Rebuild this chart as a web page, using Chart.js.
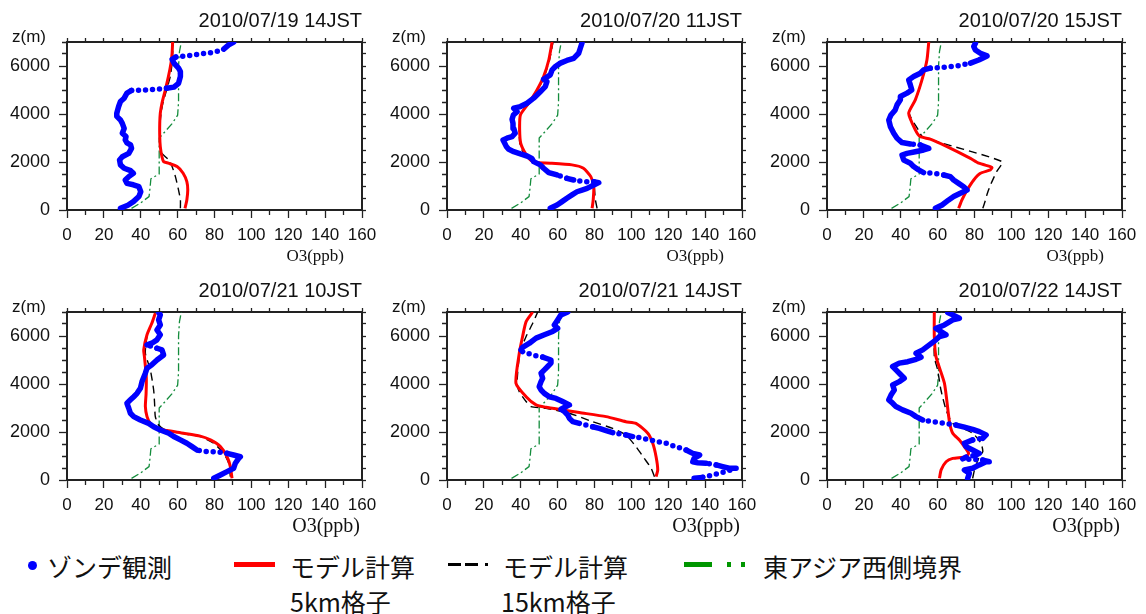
<!DOCTYPE html>
<html lang="ja">
<head>
<meta charset="utf-8">
<title>オゾン鉛直分布</title>
<script src="https://cdn.jsdelivr.net/npm/chart.js@4.4.1/dist/chart.umd.min.js"></script>
<style>
  html, body { margin: 0; padding: 0; background: #fff; }
  #page { position: relative; width: 1146px; height: 614px; overflow: hidden; background: #fff; }
  #page canvas { position: absolute; }
  .lg { position: absolute; font-family: "Noto Sans CJK JP", "Noto Sans", sans-serif; font-size: 25px; line-height: 26px; color: #111; white-space: nowrap; }
  .sym { position: absolute; }
</style>
</head>
<body>
<div id="page"></div>
<script>
// ---- Profiles: each entry is [O3 (ppb), height z (m)] ----

// Lateral boundary profile (East Asia, western side), same for every launch
const boundaryWest = [[35,70],[40,300],[44.5,560],[45,900],[45.5,1300],[50,1500],[50,2500],[50,3000],[53,3250],[57,3600],[60,3950],[60.5,4500],[60.5,6000],[61,6600],[62,7000]];

// 2010/07/19 14JST
const sonde_0719_14 = [[29,70],[33,200],[36,350],[39,560],[40,760],[39,970],[36,1050],[32.5,1110],[31.6,1250],[33.5,1390],[36,1530],[34.5,1640],[31,1740],[29,1880],[28.5,2085],[30,2220],[33.5,2360],[35,2570],[34.5,2710],[32.5,2800],[31.6,2920],[32,3060],[30,3200],[31,3400],[30,3610],[29,3750],[27,3900],[27,4030],[28,4310],[29,4520],[31,4660],[32.5,4870],[35,4980],[43,5000],[49,5030],[54,5070],[58,5120],[60.5,5280],[61.5,5560],[61.5,5770],[60.5,5910],[58,6120],[57,6280],[59,6370],[65,6420],[72,6500],[79.5,6570],[85,6700],[87.7,6880],[90.4,7000]];
const model5_0719_14 = [[64,70],[65,420],[65.5,830],[65,1180],[63,1530],[59.7,1810],[55,1950],[52.4,2015],[51.5,2220],[50.6,2640],[50.3,3060],[50.3,3610],[50.6,4030],[51.5,4450],[53.3,5000],[55,5560],[56.4,6120],[57,6530],[57.3,7000]];
const model15_0719_14 = [[61.5,70],[61.5,420],[60.5,830],[58.8,1390],[57,1810],[55.2,2085],[51.5,2360],[50.3,2640],[50.3,3060],[50.5,3610],[51,4030],[52,4450],[54,5000],[56,5560],[57,6120],[57.3,6530],[57.5,7000]];

// 2010/07/20 11JST
const sonde_0720_11 = [[56,70],[59.7,210],[62.4,350],[65,490],[67.8,630],[70.5,760],[73.2,830],[76,900],[79.6,1040],[82.3,1140],[79.6,1180],[74,1180],[68.7,1250],[65,1320],[59.7,1460],[55.2,1560],[52.4,1740],[50.6,1880],[47,2015],[46,2150],[43.4,2250],[39.8,2335],[36.2,2430],[33.5,2530],[32.2,2640],[31.1,2810],[30.4,2920],[32.5,2990],[35.3,3060],[37,3200],[36.2,3400],[35.8,3610],[35.3,3780],[36,3960],[38,4100],[36.2,4240],[39.8,4310],[43.4,4450],[47,4660],[50.6,4930],[53.3,5140],[54.2,5350],[52.4,5450],[56,5630],[57,5840],[58.8,5980],[61.5,6120],[65,6230],[68.7,6320],[71.4,6530],[72.3,6740],[73.2,6950]];
const model5_0720_11 = [[78.7,70],[79.3,420],[79.6,970],[78,1390],[74,1740],[67.8,1880],[56,1950],[48,1975],[45.2,2085],[42.5,2360],[40,2780],[39.4,3340],[39.8,3960],[44.3,4450],[48.8,5000],[52.4,5560],[55.2,6250],[57,7000]];
const model15_0720_11 = [[81.4,70],[80.5,420],[79.8,970],[78,1390],[74,1740],[68,1880],[57,1950],[48,1980],[44.5,2085],[41.5,2360],[39.5,2780],[39.2,3340],[39.8,3960],[44.5,4450],[49.2,5000],[52.8,5560],[55.6,6250],[57.5,7000]];

// 2010/07/20 15JST
const sonde_0720_15 = [[58.8,70],[62.4,210],[66,420],[68.7,560],[72.3,700],[76,830],[74.1,970],[71.4,1110],[68.7,1250],[66.9,1390],[63.3,1460],[57.9,1530],[52.4,1560],[49.7,1670],[47,1810],[45.2,1950],[41.6,2085],[40.7,2290],[43.4,2360],[47.9,2430],[52.4,2500],[55.2,2570],[50.6,2710],[45.2,2750],[40.7,2810],[38,2990],[36.2,3200],[34.4,3470],[33.5,3750],[34.7,3960],[37,4170],[38,4380],[39.8,4590],[39.8,4730],[43.4,4870],[46,5000],[45.2,5210],[44.3,5420],[47,5560],[50.6,5700],[52.4,5840],[56,5910],[63.3,5950],[70.5,6000],[77.8,6120],[82.3,6250],[86.8,6420],[83.2,6530],[80.5,6670],[79.6,6810],[80.5,6950]];
const model5_0720_15 = [[71.4,70],[73.2,420],[76,830],[79.6,1250],[83.2,1530],[88.6,1670],[89.5,1770],[88.6,1810],[82.3,1950],[77.8,2150],[65.1,2640],[56,2950],[50.5,3060],[47.9,3340],[44.3,4030],[47.9,4590],[51.5,5420],[54.2,6250],[55.2,7000]];
const model15_0720_15 = [[84.5,70],[85.5,300],[87,700],[89,1100],[92,1600],[95,2015],[52,3040],[49.5,3340],[44.6,4030],[48,4590],[51.6,5420],[54.3,6250],[55.3,7000]];

// 2010/07/21 10JST
const sonde_0721_10 = [[79.6,70],[83.2,210],[86.8,350],[90.4,490],[91.3,700],[93.1,900],[94,970],[90.4,1040],[86.8,1110],[81.4,1180],[76,1180],[70.5,1250],[67.8,1390],[65,1530],[61.5,1670],[57.9,1810],[55.2,1950],[50.6,2085],[47,2220],[44.3,2360],[39.8,2500],[36.2,2640],[34.4,2780],[33.5,2990],[32.5,3200],[34.4,3340],[36.2,3470],[38,3610],[39.8,3820],[40.7,4100],[42.5,4450],[43.4,4660],[46,4800],[48.8,5000],[52.4,5210],[51.5,5420],[48.8,5490],[43.4,5630],[46,5700],[48.8,5840],[50.6,6050],[48.8,6250],[50.6,6460],[49.7,6670],[50.6,6880],[49.7,6980]];
const model5_0721_10 = [[89.5,70],[88.6,560],[86.8,970],[83.2,1390],[77.8,1670],[72.3,1830],[63.3,1950],[54.2,2060],[48.8,2150],[45.2,2360],[43.4,2640],[42.5,3060],[42.9,3610],[43,4310],[42,5140],[41.6,5420],[43.4,6050],[46,6530],[47.9,6950]];
const model15_0721_10 = [[88.6,140],[87.7,700],[85,1110],[79.6,1530],[72.3,1810],[61.5,1950],[53.3,2085],[49.7,2290],[47.9,2640],[47.5,3200],[47,3750],[45.2,4590],[42.5,5280],[43.4,5980],[46,6530],[47.9,6950]];

// 2010/07/21 14JST
const sonde_0721_14 = [[134,70],[138.7,110],[144,210],[151,350],[156.8,490],[153,490],[149.5,560],[146,630],[140.5,700],[136,720],[133.3,760],[134,900],[137,1040],[133.3,1110],[129.7,1250],[124,1390],[118.8,1530],[111.6,1640],[106.1,1740],[100.7,1810],[97,1880],[89.9,1970],[86.3,2060],[82.6,2150],[79,2220],[71.8,2360],[68.2,2430],[66.4,2570],[65.5,2710],[63.7,2850],[61.8,2950],[64.6,3060],[66.4,3130],[62.7,3270],[59.1,3400],[55.5,3470],[52.8,3610],[51,3750],[50,3890],[51,4100],[51.9,4240],[51,4450],[52.8,4590],[54.6,4730],[56.4,4870],[56.4,5000],[51.9,5120],[46.5,5210],[41,5350],[40.1,5420],[41,5530],[44.7,5700],[48.3,5910],[52.8,6050],[57.3,6190],[60,6320],[58.2,6460],[60,6670],[61.8,6880],[65.5,7000]];
const model5_0721_14 = [[113.4,140],[114.3,420],[113.4,970],[111.6,1530],[108.9,1950],[102.5,2360],[97,2430],[86.3,2640],[71.8,2810],[62.7,2920],[53.7,3030],[48.3,3130],[42.9,3470],[37.4,4030],[39.2,5280],[41,5980],[42.9,6600],[46.5,7000]];
const model15_0721_14 = [[112.5,140],[110.7,490],[107,900],[102.5,1390],[97,1880],[89.9,2150],[79,2430],[66.4,2780],[53.7,2990],[45.6,3060],[42.9,3270],[39.2,3680],[38,4030],[39.5,5280],[42.9,5980],[46.5,6530],[49.2,7000]];

// 2010/07/22 14JST
const sonde_0722_14 = [[76.3,70],[77.2,280],[74.5,420],[79,490],[82.6,630],[86.3,760],[88,760],[84.5,830],[79,860],[73.6,880],[75.4,950],[80.8,1040],[82.6,1110],[79,1250],[75.4,1390],[74.5,1530],[79,1670],[84.5,1740],[86.3,1880],[82.6,2015],[79,2110],[74.5,2200],[70,2290],[64.6,2360],[57.3,2430],[51.9,2500],[48.3,2640],[45.6,2780],[41,2920],[37.4,3060],[35.6,3200],[33.5,3340],[34.7,3540],[36.5,3750],[35.6,3960],[39.2,4100],[41.9,4240],[39.2,4450],[37.4,4590],[35.6,4730],[39.2,4870],[43.8,4930],[48.3,5030],[51,5120],[48.3,5280],[51.9,5420],[55.5,5630],[59.1,5840],[61,5980],[64.6,6050],[61.8,6190],[59.1,6320],[63.7,6460],[68.2,6670],[71.8,6740],[68.2,6880],[65.5,6980]];
const model5_0722_14 = [[61,70],[61.9,420],[64.6,760],[68.2,900],[75.4,970],[76.8,1110],[74.5,1390],[71.8,1670],[68.2,1950],[66.4,2430],[63.7,4030],[59.1,5140],[58.2,5980],[58.2,7000]];
const model15_0722_14 = [[79,70],[80,420],[82.6,970],[84.5,1180],[83.5,1530],[79,1950],[68.2,2360],[64.6,2920],[61.8,3750],[60,4590],[58.2,5140],[58.2,7000]];

// Panel titles and their series, in reading order
const panelTitles = ['2010/07/19 14JST', '2010/07/20 11JST', '2010/07/20 15JST', '2010/07/21 10JST', '2010/07/21 14JST', '2010/07/22 14JST'];
const sondeSets = [sonde_0719_14, sonde_0720_11, sonde_0720_15, sonde_0721_10, sonde_0721_14, sonde_0722_14];
const model5Sets = [model5_0719_14, model5_0720_11, model5_0720_15, model5_0721_10, model5_0721_14, model5_0722_14];
const model15Sets = [model15_0719_14, model15_0720_11, model15_0720_15, model15_0721_10, model15_0721_14, model15_0722_14];

// Axis extents
const o3Range = [0, 160];
const zRange = [0, 7000];

// ---- Drawing ----
const SANS = '"Liberation Sans", Arial, Helvetica, sans-serif';
const SERIF = '"Liberation Serif", "Times New Roman", serif';
const INK = '#111';
const AXIS = '#222';

const page = document.getElementById('page');
const toPoints = arr => arr.map(([o3, z]) => ({ x: o3, y: z }));

// "z(m)" above the height axis and the O3 unit under the ozone axis
const axisNames = {
  id: 'axisNames',
  afterDraw(chart, args, opts) {
    const { ctx, chartArea } = chart;
    ctx.save();
    ctx.fillStyle = INK;
    ctx.textBaseline = 'middle';
    ctx.font = '17px ' + SANS;
    ctx.textAlign = 'left';
    ctx.fillText('z(m)', 12, chartArea.top - 5);
    ctx.font = opts.unitSize + 'px ' + SERIF;
    ctx.textAlign = 'right';
    ctx.fillText('O3(ppb)', chartArea.right - opts.unitInset, chartArea.bottom + 47);
    ctx.restore();
  }
};

// Minor ticks are shortened with a dash pattern; majors use the full length
const isMinor = (c, step) => c.tick && Math.round(c.tick.value) % step !== 0;

function buildPanel(i) {
  const row = Math.floor(i / 3), col = i % 3;
  const canvas = document.createElement('canvas');
  canvas.width = 380; canvas.height = 270;
  canvas.style.left = (col * 380) + 'px';
  canvas.style.top = (row * 270) + 'px';
  page.appendChild(canvas);

  const fixW = w => s => { s.width = w; s.paddingTop = 0; s.paddingBottom = 0; };
  const fixH = h => s => { s.height = h; s.paddingLeft = 0; s.paddingRight = 0; };

  new Chart(canvas, {
    type: 'scatter',
    data: {
      datasets: [
        {
          label: 'ゾンデ観測',
          data: toPoints(sondeSets[i]),
          showLine: true,
          borderColor: 'rgb(0,0,255)',
          borderWidth: 5.5,
          borderCapStyle: 'round',
          borderJoinStyle: 'round',
          pointRadius: 0,
          tension: 0,
          segment: {
            // sparse soundings across sharp gradients show up as separate dots
            borderDash: c => {
              const dx = Math.abs(c.p1.x - c.p0.x), dy = Math.abs(c.p1.y - c.p0.y);
              return (dx > 9 && dx > 2.5 * dy) ? [0, 7] : undefined;
            }
          }
        },
        {
          label: 'モデル計算 5km格子',
          data: toPoints(model5Sets[i]),
          showLine: true,
          borderColor: 'rgb(255,0,0)',
          borderWidth: 3,
          pointRadius: 0,
          tension: 0.2
        },
        {
          label: 'モデル計算 15km格子',
          data: toPoints(model15Sets[i]),
          showLine: true,
          borderColor: '#000',
          borderWidth: 1.4,
          borderDash: [8, 5],
          pointRadius: 0,
          tension: 0.2
        },
        {
          label: '東アジア西側境界',
          data: toPoints(boundaryWest),
          showLine: true,
          borderColor: 'rgb(20,140,60)',
          borderWidth: 1.3,
          borderDash: [8, 3, 2, 3],
          pointRadius: 0,
          tension: 0
        }
      ]
    },
    options: {
      responsive: false,
      animation: false,
      devicePixelRatio: 1,
      events: [],
      layout: { padding: { left: 0, right: 18, top: 0, bottom: 0 } },
      plugins: {
        legend: { display: false },
        tooltip: { enabled: false },
        title: {
          display: true,
          text: panelTitles[i],
          align: 'end',
          color: INK,
          font: { family: SANS, size: 20, weight: 'normal' },
          padding: { top: 9, bottom: 9 }
        },
        axisNames: row === 0 ? { unitSize: 17, unitInset: 18 } : { unitSize: 20, unitInset: 2 }
      },
      scales: {
        x: {
          type: 'linear', position: 'bottom', min: o3Range[0], max: o3Range[1],
          afterFit: fixH(60),
          border: { display: true, color: AXIS, width: 2 },
          grid: {
            drawOnChartArea: false, tickLength: 8, tickColor: AXIS, tickWidth: 1.3,
            tickBorderDash: c => isMinor(c, 20) ? [4, 40] : []
          },
          ticks: {
            stepSize: 10, autoSkip: false, maxRotation: 0, minRotation: 0, padding: 7,
            color: INK, font: { family: SANS, size: 17 },
            callback: v => (Math.round(v) % 20 === 0 ? String(v) : '')
          }
        },
        xTop: {
          type: 'linear', position: 'top', min: o3Range[0], max: o3Range[1],
          afterFit: fixH(0),
          border: { display: true, color: AXIS, width: 2 },
          grid: { drawOnChartArea: false, tickLength: 4, tickColor: AXIS, tickWidth: 1.3 },
          ticks: { stepSize: 10, autoSkip: false, display: false }
        },
        y: {
          type: 'linear', position: 'left', min: zRange[0], max: zRange[1],
          afterFit: fixW(67),
          border: { display: true, color: AXIS, width: 2 },
          grid: {
            drawOnChartArea: false, tickLength: 8, tickColor: AXIS, tickWidth: 1.3,
            tickBorderDash: c => isMinor(c, 2000) ? [0, 3, 4, 40] : []
          },
          ticks: {
            stepSize: 500, autoSkip: false, padding: 9,
            color: INK, font: { family: SANS, size: 18 },
            callback: v => (Math.round(v) % 2000 === 0 ? String(v) : '')
          }
        },
        yRight: {
          type: 'linear', position: 'right', min: zRange[0], max: zRange[1],
          afterFit: fixW(0),
          border: { display: true, color: AXIS, width: 2 },
          grid: { drawOnChartArea: false, tickLength: 4, tickColor: AXIS, tickWidth: 1.3 },
          ticks: { stepSize: 500, autoSkip: false, display: false }
        }
      }
    },
    plugins: [axisNames]
  });
}

for (let i = 0; i < 6; i++) buildPanel(i);

// ---- Shared legend ----
function addBox(left, top, width, height, color, radius) {
  const d = document.createElement('div');
  d.className = 'sym';
  d.style.cssText = `left:${left}px;top:${top}px;width:${width}px;height:${height}px;background:${color};` + (radius ? `border-radius:${radius};` : '');
  page.appendChild(d);
}
function addText(left, top, text) {
  const d = document.createElement('div');
  d.className = 'lg';
  d.style.left = left + 'px';
  d.style.top = top + 'px';
  d.textContent = text;
  page.appendChild(d);
}

// sonde observation
addBox(28, 561, 9, 9, 'rgb(0,0,255)', '50%');
addText(47, 553, 'ゾンデ観測');
// model, 5 km grid
addBox(234, 562, 41, 5, 'rgb(255,0,0)');
addText(290, 553, 'モデル計算');
addText(290, 588, '5km格子');
// model, 15 km grid
addBox(448, 563, 13, 3, '#000');
addBox(465, 563, 13, 3, '#000');
addBox(485, 563, 3, 3, '#000');
addText(503, 553, 'モデル計算');
addText(501, 588, '15km格子');
// western boundary
addBox(684, 562, 28, 5, 'rgb(0,150,0)');
addBox(727, 562, 4, 5, 'rgb(0,150,0)');
addBox(741, 562, 4, 5, 'rgb(0,150,0)');
addText(763, 553, '東アジア西側境界');
</script>
</body>
</html>
